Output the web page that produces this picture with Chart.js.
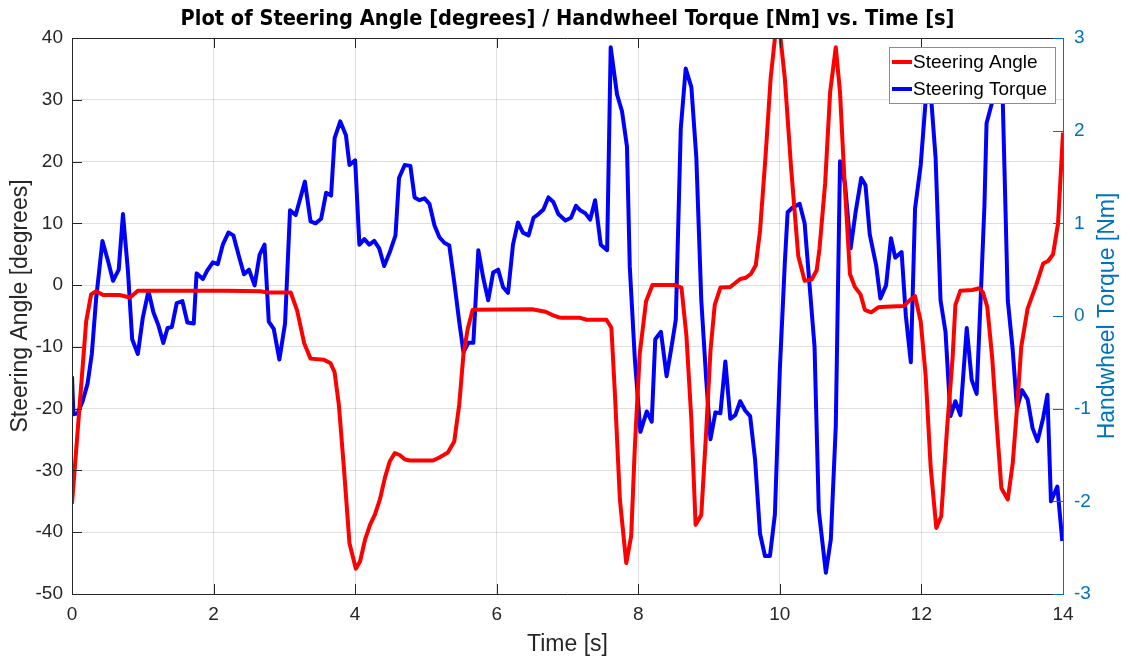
<!DOCTYPE html>
<html lang="en">
<head>
<meta charset="UTF-8">
<title>Steering Angle / Handwheel Torque</title>
<script src="https://cdn.jsdelivr.net/npm/chart.js"></script>
<style>
  html, body { margin: 0; padding: 0; background: #fff; }
  canvas { display: block; }
</style>
</head>
<body>
<canvas id="grafico" width="1130" height="664"></canvas>
<script>
// Steering angle trace [deg] (time in s)
const angleTime = [0, 0.2, 0.27, 0.34, 0.44, 0.67, 0.82, 0.93, 2.19, 2.66, 2.76, 3.09, 3.18, 3.28, 3.37, 3.56,
  3.65, 3.71, 3.77, 3.84, 3.92, 4.01, 4.07, 4.14, 4.21, 4.28, 4.35, 4.42, 4.49, 4.56, 4.63, 4.70, 4.77, 5.10,
  5.19, 5.31, 5.40, 5.47, 5.53, 5.59, 5.66, 6.50, 6.69, 6.78, 6.87, 6.92, 7.18, 7.27, 7.55, 7.62, 7.67, 7.74,
  7.83, 7.90, 7.95, 8.02, 8.11, 8.20, 8.52, 8.61, 8.68, 8.75, 8.81, 8.89, 8.96, 9.02, 9.08, 9.16, 9.30, 9.44,
  9.52, 9.59, 9.66, 9.72, 9.80, 9.87, 9.94, 10.0, 10.07, 10.16, 10.26, 10.35, 10.45, 10.52, 10.56, 10.64,
  10.71, 10.79, 10.85, 10.91, 10.99, 11.06, 11.14, 11.20, 11.29, 11.39, 11.49, 11.75, 11.84, 11.91, 11.99,
  12.06, 12.13, 12.21, 12.28, 12.36, 12.44, 12.48, 12.55, 12.72, 12.82, 12.87, 12.93, 13.00, 13.07, 13.13,
  13.22, 13.29, 13.35, 13.41, 13.50, 13.62, 13.72, 13.79, 13.86, 13.93, 14.0];
const angleDeg = [-35.4, -5.9, -1.5, -1.0, -1.6, -1.6, -2.0, -0.9, -0.9, -1.0, -1.2, -1.2, -4.1, -9.4, -11.9, -12.1,
  -12.6, -14.1, -19.4, -29.4, -41.8, -45.9, -44.7, -41.2, -38.8, -37.1, -34.7, -31.2, -28.5, -27.2, -27.5, -28.2, -28.4, -28.4,
  -27.9, -27.1, -25.3, -19.4, -11.2, -7.1, -4.0, -3.9, -4.3, -4.8, -5.2, -5.3, -5.3, -5.6, -5.6, -6.9, -17.6, -34.7,
  -45.0, -40.6, -26.5, -11.2, -2.6, 0, 0, -0.4, -8.2, -21.8, -38.8, -37.2, -23.5, -10.6, -3.2, -0.4, -0.3, 1.0,
  1.2, 1.8, 3.2, 8.8, 21.2, 33.5, 41, 41, 33.5, 18.8, 4.7, 0.7, 0.9, 2.4, 5.9, 16.5,
  31.2, 38.5, 31.2, 17.6, 1.8, -0.3, -1.5, -4.0, -4.4, -3.6, -3.5, -3.4, -2.4, -1.8, -5.9,
  -14.7, -29.4, -39.3, -37.4, -23.5, -11.8, -3.2, -0.9, -0.8, -0.5, -1.2, -3.5, -11.8, -23.5, -32.9,
  -34.7, -28.8, -20, -10, -3.8, 0, 3.5, 3.9, 5.0, 10, 24.7];

// Handwheel torque trace [Nm]
const torqueTime = [0, 0.02, 0.08, 0.15, 0.22, 0.28, 0.34, 0.43, 0.51, 0.58, 0.66, 0.72, 0.79, 0.85, 0.93, 1.00,
  1.08, 1.15, 1.22, 1.29, 1.35, 1.41, 1.48, 1.56, 1.63, 1.72, 1.76, 1.85, 1.91, 1.99, 2.06, 2.13, 2.21, 2.28,
  2.36, 2.43, 2.50, 2.58, 2.65, 2.72, 2.78, 2.85, 2.93, 3.01, 3.08, 3.16, 3.29, 3.37, 3.44, 3.52, 3.59, 3.66,
  3.71, 3.79, 3.87, 3.92, 4.00, 4.06, 4.13, 4.20, 4.27, 4.34, 4.41, 4.49, 4.57, 4.62, 4.70, 4.78, 4.84, 4.91,
  4.98, 5.05, 5.12, 5.19, 5.26, 5.33, 5.40, 5.47, 5.53, 5.60, 5.67, 5.74, 5.81, 5.88, 5.95, 6.02, 6.09, 6.16,
  6.23, 6.30, 6.37, 6.45, 6.52, 6.59, 6.66, 6.73, 6.80, 6.87, 6.97, 7.05, 7.12, 7.18, 7.25, 7.32, 7.39, 7.47,
  7.56, 7.61, 7.70, 7.77, 7.84, 7.88, 7.95, 8.03, 8.12, 8.19, 8.24, 8.32, 8.40, 8.47, 8.53, 8.60, 8.67, 8.75,
  8.82, 8.89, 8.96, 9.02, 9.09, 9.16, 9.23, 9.30, 9.37, 9.44, 9.51, 9.58, 9.65, 9.72, 9.79, 9.86, 9.93, 10.00,
  10.07, 10.11, 10.18, 10.28, 10.35, 10.42, 10.49, 10.55, 10.65, 10.72, 10.79, 10.85, 10.92, 11.00, 11.07,
  11.15, 11.21, 11.27, 11.36, 11.42, 11.50, 11.57, 11.63, 11.72, 11.78, 11.85, 11.91, 11.99, 12.06, 12.10,
  12.20, 12.27, 12.34, 12.41, 12.48, 12.55, 12.64, 12.71, 12.78, 12.84, 12.89, 12.92, 13.00, 13.07, 13.15,
  13.22, 13.29, 13.35, 13.42, 13.50, 13.57, 13.64, 13.72, 13.78, 13.83, 13.92, 13.99];
const torqueNm = [-0.65, -1.06, -1.05, -0.92, -0.73, -0.41, 0.18, 0.81, 0.59, 0.38, 0.50, 1.10, 0.49, -0.25, -0.41, -0.02,
  0.27, 0.04, -0.10, -0.29, -0.13, -0.12, 0.14, 0.16, -0.07, -0.08, 0.46, 0.40, 0.49, 0.58, 0.56, 0.77, 0.90, 0.87,
  0.64, 0.45, 0.50, 0.33, 0.66, 0.77, -0.06, -0.14, -0.47, -0.08, 1.14, 1.09, 1.45, 1.02, 1.00, 1.05, 1.33, 1.30,
  1.92, 2.10, 1.95, 1.63, 1.68, 0.77, 0.83, 0.77, 0.81, 0.73, 0.54, 0.69, 0.87, 1.49, 1.63, 1.62, 1.28, 1.25,
  1.27, 1.21, 0.98, 0.85, 0.79, 0.76, 0.37, -0.06, -0.39, -0.29, -0.29, 0.71, 0.41, 0.17, 0.47, 0.50, 0.31, 0.25,
  0.77, 1.01, 0.90, 0.87, 1.06, 1.10, 1.15, 1.28, 1.23, 1.10, 1.03, 1.06, 1.19, 1.14, 1.11, 1.04, 1.25, 0.77,
  0.71, 2.90, 2.39, 2.21, 1.83, 0.53, -0.45, -1.25, -1.03, -1.14, -0.25, -0.17, -0.65, -0.33, -0.04, 2.02, 2.67, 2.47,
  1.71, 0.17, -0.69, -1.33, -1.04, -1.05, -0.49, -1.11, -1.07, -0.92, -1.02, -1.08, -1.55, -2.35, -2.59, -2.59, -2.14, -0.57,
  0.57, 1.12, 1.17, 1.21, 1.00, 0.33, -0.33, -2.10, -2.77, -2.41, -1.19, 1.67, 1.43, 0.73, 1.12,
  1.49, 1.41, 0.88, 0.55, 0.19, 0.33, 0.84, 0.63, 0.69, 0.00, -0.50, 1.16, 1.63, 2.33, 2.73,
  1.71, 0.17, -0.17, -1.08, -0.92, -1.07, -0.13, -0.69, -0.84, 0.25, 1.19, 2.08, 2.31, 2.53, 2.29,
  0.17, -0.37, -1.00, -0.80, -0.90, -1.21, -1.35, -1.10, -0.85, -2.00, -1.84, -2.43];

const timeTicks = [0, 2, 4, 6, 8, 10, 12, 14];
const angleTicks = [-50, -40, -30, -20, -10, 0, 10, 20, 30, 40];
const torqueTicks = [-3, -2, -1, 0, 1, 2, 3];

const seriesNames = ['Steering Angle', 'Steering Torque'];
const titulo = 'Plot of Steering Angle [degrees] / Handwheel Torque [Nm] vs. Time [s]';

const FONTE = '"Liberation Sans", Arial, Helvetica, sans-serif';
const CINZA = '#262626';
const AZUL_EIXO = '#0072BD';

function pontos(xs, ys) {
  return xs.map((x, i) => ({ x: x, y: ys[i] }));
}

// fixed tick values from the arrays above
function fixarTicks(lista) {
  return function (scale) {
    scale.ticks = lista.map(v => ({ value: v }));
  };
}

// box, inward tick marks, title, axis titles
const moldura = {
  id: 'moldura',
  afterDatasetsDraw(chart) {
    const { ctx, chartArea: a, scales } = chart;
    const L = 10;
    ctx.save();
    ctx.lineWidth = 1;
    ctx.strokeStyle = CINZA;
    ctx.beginPath();
    scales.x.ticks.forEach(t => {
      const px = Math.round(scales.x.getPixelForValue(t.value)) + 0.5;
      ctx.moveTo(px, a.bottom); ctx.lineTo(px, a.bottom - L);
      ctx.moveTo(px, a.top); ctx.lineTo(px, a.top + L);
    });
    scales.y.ticks.forEach(t => {
      const py = Math.round(scales.y.getPixelForValue(t.value)) + 0.5;
      ctx.moveTo(a.left, py); ctx.lineTo(a.left + L, py);
    });
    ctx.moveTo(a.left + 0.5, a.top); ctx.lineTo(a.left + 0.5, a.bottom);
    ctx.moveTo(a.left, a.bottom + 0.5); ctx.lineTo(a.right, a.bottom + 0.5);
    ctx.moveTo(a.left, a.top + 0.5); ctx.lineTo(a.right, a.top + 0.5);
    ctx.stroke();

    ctx.strokeStyle = AZUL_EIXO;
    ctx.beginPath();
    scales.y1.ticks.forEach(t => {
      const py = Math.round(scales.y1.getPixelForValue(t.value)) + 0.5;
      ctx.moveTo(a.right, py); ctx.lineTo(a.right - L, py);
    });
    ctx.moveTo(a.right + 0.5, a.top); ctx.lineTo(a.right + 0.5, a.bottom + 1);
    ctx.stroke();
    ctx.restore();
  },
  afterDraw(chart) {
    const { ctx, chartArea: a } = chart;
    const cx = (a.left + a.right) / 2;
    ctx.save();
    ctx.textAlign = 'center';
    ctx.textBaseline = 'middle';

    ctx.fillStyle = '#000';
    ctx.font = 'bold 21.6px "Liberation Sans Narrow", "DejaVu Sans Condensed", ' + FONTE;
    ctx.fillText(titulo, cx, 19);

    ctx.fillStyle = CINZA;
    ctx.font = '23px ' + FONTE;
    ctx.fillText('Time [s]', cx, 645);

    ctx.save();
    ctx.translate(21, 306);
    ctx.rotate(-Math.PI / 2);
    ctx.fillText('Steering Angle [degrees]', 0, 0);
    ctx.restore();

    ctx.fillStyle = AZUL_EIXO;
    ctx.save();
    ctx.translate(1108, 316);
    ctx.rotate(-Math.PI / 2);
    ctx.fillText('Handwheel Torque [Nm]', 0, 0);
    ctx.restore();

    // legend box in the upper right corner
    const lx = 889, ly = 47, lw = 166, lh = 56;
    ctx.fillStyle = '#fff';
    ctx.fillRect(lx, ly, lw, lh);
    ctx.strokeStyle = '#8c8c8c';
    ctx.lineWidth = 1;
    ctx.strokeRect(lx + 0.5, ly + 0.5, lw, lh);
    ctx.textAlign = 'left';
    ctx.font = '19px ' + FONTE;
    chart.data.datasets.forEach((ds, i) => {
      const y = ly + 15 + i * 27;
      ctx.strokeStyle = ds.borderColor;
      ctx.lineWidth = 4;
      ctx.beginPath();
      ctx.moveTo(lx + 3, y);
      ctx.lineTo(lx + 23, y);
      ctx.stroke();
      ctx.fillStyle = '#000';
      ctx.fillText(ds.label, lx + 24, y + 1);
    });
    ctx.restore();
  }
};

const ctx = document.getElementById('grafico').getContext('2d');
new Chart(ctx, {
  type: 'line',
  data: {
    datasets: [{
      label: seriesNames[0],
      data: pontos(angleTime, angleDeg),
      yAxisID: 'y',
      borderColor: '#ff0000',
      borderWidth: 4,
      pointRadius: 0,
      tension: 0,
      borderJoinStyle: 'round',
      clip: 0
    }, {
      label: seriesNames[1],
      data: pontos(torqueTime, torqueNm),
      yAxisID: 'y1',
      borderColor: '#0000ff',
      borderWidth: 4,
      pointRadius: 0,
      tension: 0,
      borderJoinStyle: 'round',
      clip: 0
    }]
  },
  options: {
    responsive: false,
    animation: false,
    devicePixelRatio: 1,
    layout: { padding: { top: 38, left: 0, right: 0, bottom: 0 } },
    plugins: {
      legend: { display: false },
      title: { display: false },
      tooltip: { enabled: false }
    },
    scales: {
      x: {
        type: 'linear',
        min: 0,
        max: 14,
        afterBuildTicks: fixarTicks(timeTicks),
        afterFit: s => { s.height = 70; },
        grid: { color: 'rgba(38,38,38,0.15)', drawTicks: false },
        border: { display: false },
        ticks: { color: CINZA, font: { family: FONTE, size: 19 }, padding: 9, maxRotation: 0 }
      },
      y: {
        position: 'left',
        min: -50,
        max: 40,
        afterBuildTicks: fixarTicks(angleTicks),
        afterFit: s => { s.width = 72; },
        grid: { color: 'rgba(38,38,38,0.15)', drawTicks: false },
        border: { display: false },
        ticks: { color: CINZA, font: { family: FONTE, size: 19 }, padding: 9 }
      },
      y1: {
        position: 'right',
        min: -3,
        max: 3,
        afterBuildTicks: fixarTicks(torqueTicks),
        afterFit: s => { s.width = 67; },
        grid: { display: false, drawTicks: false },
        border: { display: false },
        ticks: { color: AZUL_EIXO, font: { family: FONTE, size: 19 }, padding: 11 }
      }
    }
  },
  plugins: [moldura]
});
</script>
</body>
</html>
